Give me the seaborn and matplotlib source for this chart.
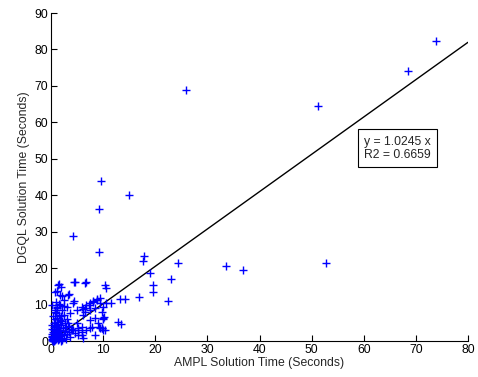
import matplotlib
matplotlib.use("Agg")
import matplotlib.pyplot as plt
import seaborn as sns
import pandas as pd
import numpy as np

# Scattered points (AMPL time, DGQL time) in seconds
ampl_outer = [73.8, 68.5, 51.2, 25.9, 52.7, 33.6, 36.8, 24.4, 17.8, 17.6, 19.0, 23.0,
              4.2, 9.3, 19.5, 19.5, 16.9, 22.5, 13.2, 14.2, 12.9, 13.4, 4.4, 4.6,
              6.8, 10.4, 10.5, 1.5, 1.9, 1.2, 3.5, 2.2, 4.5, 10.6, 11.5, 8.8, 8.1,
              7.5, 6.8, 6.5, 6.2, 7.5, 8.4, 9.7, 6.1, 7.5, 8.4, 10.0, 9.3, 9.9, 9.7,
              5.9, 5.9, 4.3, 5.2, 4.6, 7.5, 15.0, 9.5, 9.3, 9.4, 10.0, 10.2, 10.0,
              9.4, 1.4, 6.5, 0.8, 1.7, 3.3, 2.4, 4.3, 4.9, 3.6, 5.9, 7.2, 8.1, 8.8,
              9.4, 6.5, 4.9, 5.9, 6.8, 5.2, 7.8, 9.1, 9.7, 10.4, 8.4, 5.2, 6.2, 4.0,
              3.0, 1.1, 1.7, 0.1, 2.1, 0.8]
dgql_outer = [82.3, 74.1, 64.4, 68.9, 21.3, 20.6, 19.5, 21.4, 23.3, 22.0, 18.6, 17.0,
              28.9, 24.3, 15.4, 13.5, 12.1, 10.9, 11.4, 11.4, 5.3, 4.6, 16.1, 16.1,
              16.3, 15.4, 14.5, 15.6, 14.9, 13.8, 12.9, 12.3, 11.0, 10.3, 10.3, 11.5,
              11.0, 10.5, 9.9, 9.1, 8.8, 8.5, 9.0, 8.0, 7.1, 5.8, 6.2, 6.2, 3.9, 3.0,
              3.5, 1.6, 2.6, 3.0, 3.5, 2.1, 3.5, 40.1, 43.8, 36.3, 10.3, 9.4, 6.7, 6.0,
              3.6, 15.4, 16.0, 13.5, 12.6, 12.6, 11.3, 10.3, 8.5, 7.6, 9.4, 9.9, 10.8,
              11.3, 11.7, 8.0, 4.9, 3.9, 3.0, 3.0, 3.9, 4.9, 3.5, 3.0, 1.6, 1.6, 0.7,
              3.0, 9.4, 9.4, 9.9, 9.9, 8.5, 8.0]

# Dense cluster near the origin
ampl_cluster = [0.1, 0.2, 0.3, 0.3, 0.4, 0.4, 0.5, 0.5, 0.6, 0.6, 0.7, 0.7, 0.8, 0.8,
                0.9, 0.9, 1.0, 1.0, 1.1, 1.1, 1.2, 1.2, 1.3, 1.3, 1.4, 1.4, 1.5, 1.5,
                1.6, 1.6, 1.7, 1.8, 1.8, 1.9, 2.0, 2.0, 2.1, 2.2, 2.3, 2.4, 2.5, 2.6,
                2.7, 2.8, 2.9, 3.0, 3.1, 3.2, 3.4, 3.5, 3.7, 3.9, 0.2, 0.3, 0.5, 0.6,
                0.8, 1.0, 0.4, 0.7, 0.2, 1.2, 0.9, 1.6, 2.4, 0.3, 0.6, 1.4, 2.2, 0.1,
                0.2, 0.1, 1.9]
dgql_cluster = [0.2, 0.5, 0.1, 0.9, 1.5, 0.3, 2.2, 0.7, 1.1, 3.0, 0.4, 1.8, 2.6, 0.9,
                4.1, 1.4, 0.6, 3.3, 2.0, 5.2, 1.2, 6.4, 2.8, 0.8, 4.6, 1.7, 3.7, 7.2,
                2.3, 0.5, 5.8, 1.4, 3.1, 6.8, 2.0, 4.4, 0.9, 5.4, 3.5, 1.6, 7.0, 2.7,
                4.9, 0.6, 3.9, 6.0, 1.9, 5.0, 2.5, 4.0, 1.2, 3.3, 1.3, 2.6, 3.8, 5.0,
                6.0, 7.6, 6.8, 8.4, 4.5, 9.0, 10.8, 10.2, 9.6, 0.0, 0.1, 0.2, 0.3, 1.0,
                2.0, 3.2, 0.1]

slope = 1.0245
r2 = 0.6659
fit_x = [0, 80]

df = pd.DataFrame({"AMPL": ampl_outer + ampl_cluster,
                   "DGQL": dgql_outer + dgql_cluster})
fit = pd.DataFrame({"x": fit_x, "y": [slope * v for v in fit_x]})

sns.set_style("white")
plt.rcParams["font.family"] = ["Liberation Sans", "DejaVu Sans"]

fig = plt.figure(figsize=(4.78, 3.77), dpi=100)
ax = fig.add_axes([51/478, 1 - 341/377, (468 - 51)/478, (341 - 13)/377])

sns.scatterplot(data=df, x="AMPL", y="DGQL", marker="+", color=(0, 0, 1),
                s=40, linewidth=1.0, ax=ax, zorder=3)
for coll in ax.collections:
    coll.set_clip_on(False)
sns.lineplot(data=fit, x="x", y="y", color="black", linewidth=1.0, ax=ax, zorder=2)

ax.set_xlim(0, 80)
ax.set_ylim(0, 90)
ax.set_xticks(range(0, 81, 10))
ax.set_yticks(range(0, 91, 10))
ax.tick_params(direction="in", length=4, width=0.8, labelsize=8.8, colors="black",
               pad=2, bottom=True, left=True)
for side in ["top", "right"]:
    ax.spines[side].set_visible(False)
for side in ["left", "bottom"]:
    ax.spines[side].set_color("black")
    ax.spines[side].set_linewidth(0.8)

ax.set_xlabel("AMPL Solution Time (Seconds)", fontsize=8.8, labelpad=1)
ax.set_ylabel("DGQL Solution Time (Seconds)", fontsize=8.8, labelpad=3)

ax.text(60.0, 52.9, f"y = {slope} x\nR2 = {r2}", fontsize=8.8,
        ha="left", va="center", linespacing=1.15,
        bbox=dict(boxstyle="square,pad=0.5", facecolor="white",
                  edgecolor="black", linewidth=0.8), zorder=4)

fig.savefig("out.png", dpi=100)
